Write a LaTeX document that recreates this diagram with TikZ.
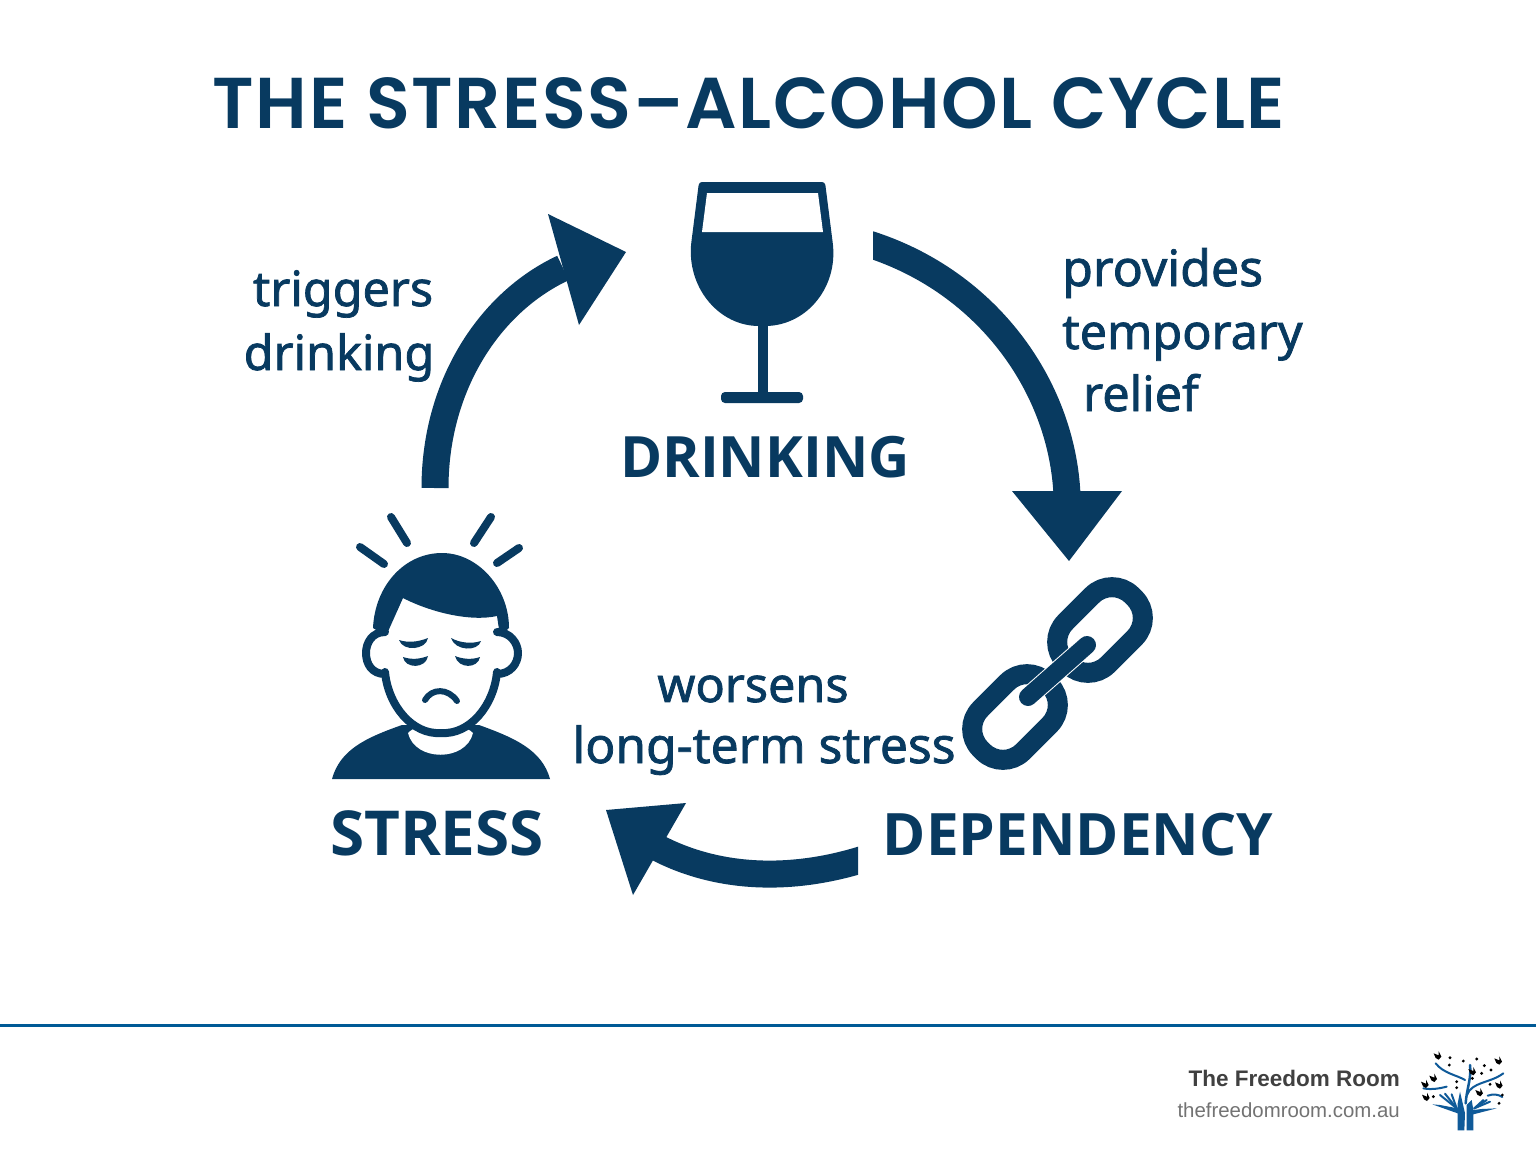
\documentclass[tikz,border=0pt]{standalone}
\usepackage{fontspec}
\setmainfont{Open Sans}
\newfontfamily\titlefont[LetterSpace=2.2]{Poppins SemiBold}
\newfontfamily\labelfont[FakeBold=1.5]{Noto Sans}
\newfontfamily\footfont{Liberation Sans}
\usetikzlibrary{positioning}
\definecolor{navy}{HTML}{083A60}
\definecolor{rulecol}{HTML}{005A96}
\definecolor{logoblue}{HTML}{0F5A99}
\tikzset{
  caption/.style={font=\fontsize{57}{57}\selectfont\bfseries, text=navy, inner sep=0pt},
  edgelabel/.style={font=\fontsize{48.5}{48}\labelfont, text=navy, inner sep=0pt},
  shaft/.style={draw=navy, line width=27pt},
  arrowhead/.style={fill=navy},
  icon/.style={draw=navy, line width=8pt, line cap=round, line join=round},
  chainlink/.style={draw=navy, line width=20pt, rounded corners=28pt},
}
\begin{document}
\begin{tikzpicture}[x=1pt, y=-1pt]
  \useasboundingbox[fill=white] (0,0) rectangle (1536,1154);

  % Title
  \node[anchor=base, inner sep=0pt, text=navy, font=\fontsize{72}{72}\titlefont] (title) at (749,128) {THE STRESS–ALCOHOL CYCLE};

  % Captions
  \node[caption, anchor=base] (drinking) at (765,477) {DRINKING};
  \node[caption, anchor=base, font=\fontsize{62}{62}\selectfont\bfseries] (stress) at (437,855) {STRESS};
  \node[caption, anchor=base, font=\fontsize{58.5}{58}\selectfont\bfseries] (dependency) at (1078,855) {DEPENDENCY};

  % Arrow labels
  \node[edgelabel, anchor=base] (trig) at (343,306) {triggers};
  \node[edgelabel, anchor=base] (drink) at (339,370) {drinking};
  \node[edgelabel, anchor=base west, font=\fontsize{50}{48}\labelfont] (prov) at (1062,286) {provides};
  \node[edgelabel, anchor=base west] (temp) at (1062,349) {temporary};
  \node[edgelabel, anchor=base west] (relief) at (1083,411) {relief};
  \node[edgelabel, anchor=base] (wors) at (753,702) {worsens};
  \node[edgelabel, anchor=base, font=\fontsize{49.7}{48}\labelfont] (long) at (764,763) {long-term stress};

  % Arrow ends
  \coordinate (s1) at (435,488);
  \coordinate (e1) at (563,268);
  \coordinate (s2) at (862,242);
  \coordinate (e2) at (1067,495);
  \coordinate (s3) at (870,857);
  \coordinate (e3) at (658,848);

  % Arrows of the cycle
  \draw[shaft] (s1) .. controls (435,385) and (490,302) .. (e1);
  \fill[arrowhead] (626,252) -- (548,214) -- (579,325) -- cycle;
  \begin{scope}
    \clip (873,200) rectangle (1200,600);
    \draw[shaft] (s2) .. controls (985,278) and (1062,385) .. (e2);
  \end{scope}
  \fill[arrowhead] (1012,491) -- (1122,491) -- (1069,561) -- cycle;
  \begin{scope}
    \clip (600,800) rectangle (858,920);
    \draw[shaft] (s3) .. controls (795,882) and (720,880) .. (e3);
  \end{scope}
  \fill[arrowhead] (606,810) -- (686,803) -- (633,895) -- cycle;

  % Wine glass
  \fill[navy, rounded corners=3pt] (699,182) -- (825,182) -- (833,245)
    .. controls (836,290) and (805,326) .. (762,326)
    .. controls (720,326) and (689,290) .. (691,245) -- cycle;
  \fill[white] (707,193) -- (818,193) -- (823,232) -- (702,232) -- cycle;
  \fill[navy] (758,320) rectangle (768,396);
  \fill[navy, rounded corners=4pt] (721,392) rectangle (803,403);

  % Stressed person
  \draw[icon] (391,517) -- (407,543);
  \draw[icon] (360,547) -- (384,564);
  \draw[icon] (491,517) -- (474,543);
  \draw[icon] (519,548) -- (497,563);
  \fill[navy] (332,779) .. controls (340,750) and (365,738) .. (402,725)
    -- (479,725) .. controls (515,738) and (542,750) .. (550,779) -- cycle;
  \fill[white] (408,733) .. controls (415,762) and (466,762) .. (473,733)
    .. controls (460,720) and (420,720) .. (408,733) -- cycle;
  \fill[white] (385,625) -- (385,672)
    .. controls (388,705) and (412,735) .. (441,733)
    .. controls (470,735) and (494,705) .. (497,672) -- (497,625) -- cycle;
  \draw[icon] (385,672)
    .. controls (388,705) and (412,735) .. (441,733)
    .. controls (470,735) and (494,705) .. (497,672);
  \draw[icon] (385,632) .. controls (372,632) and (366,643) .. (366,653)
    .. controls (366,664) and (372,674) .. (385,674);
  \draw[icon] (497,632) .. controls (510,632) and (518,643) .. (518,653)
    .. controls (518,664) and (510,674) .. (497,674);
  \fill[navy] (386,636) -- (403,598) .. controls (430,612) and (470,622) .. (497,616)
    -- (500,636) -- (509,628) .. controls (509,588) and (478,553) .. (442,553)
    .. controls (405,553) and (375,585) .. (373,628) -- cycle;
  % Brows, eyes and mouth
  \fill[navy] (399,640) .. controls (408,643) and (418,642) .. (428,638)
    .. controls (426,650) and (403,652) .. (399,640) -- cycle;
  \fill[navy] (451,638) .. controls (460,643) and (472,644) .. (481,641)
    .. controls (478,652) and (455,651) .. (451,638) -- cycle;
  \fill[navy] (403,657) .. controls (412,660) and (420,659) .. (428,656)
    .. controls (426,669) and (405,669) .. (403,657) -- cycle;
  \fill[navy] (455,656) .. controls (462,659) and (472,660) .. (480,657)
    .. controls (478,669) and (458,669) .. (455,656) -- cycle;
  \draw[navy, line width=6pt, line cap=round] (425,700) .. controls (432,688) and (448,688) .. (457,701);

  % Chain
  \begin{scope}[shift={(1100,630)}, rotate=45]
    \draw[chainlink] (-47,-30) rectangle (47,30);
  \end{scope}
  \begin{scope}[shift={(1015,717)}, rotate=45]
    \draw[chainlink] (-47,-30) rectangle (47,30);
  \end{scope}
  \draw[white, line width=20pt, line cap=round] (1028,697) -- (1087,645);
  \draw[navy, line width=18pt, line cap=round] (1028,697) -- (1087,645);

  % Footer
  \draw[rulecol, line width=3pt] (0,1025) -- (1536,1025);
  \node[anchor=base east, inner sep=0pt, text=black!75, font=\fontsize{22.5}{24}\footfont\bfseries] (brand) at (1400,1086) {The Freedom Room};
  \node[anchor=base east, inner sep=0pt, text=black!55, font=\fontsize{20.4}{21}\footfont] (site) at (1400,1117) {thefreedomroom.com.au};

  % Logo
  \begin{scope}[shift={(1415,1045)}, x=0.3333pt, y=-0.3333pt]
    \begin{scope}[logoblue, line cap=round]
      \fill (128,256) -- (148,256) -- (150,205) -- (142,170) -- (135,140) -- (128,175) -- (128,205) -- (80,188) -- (52,178) -- (75,180) -- (128,190) -- cycle;
      \fill (155,256) -- (175,256) -- (175,208) -- (245,190) -- (200,192) -- (175,195) -- (170,165) -- (155,180) -- cycle;
      \foreach \ex/\ey in {75/150, 90/146, 110/148}
        \draw[line width=2pt] (125,190) -- (\ex,\ey);
      \foreach \ex/\ey in {225/170, 215/165, 205/165}
        \draw[line width=2pt] (178,190) -- (\ex,\ey);
      \draw[line width=2.5pt] (152,175) .. controls (155,130) and (170,100) .. (165,60);
      \draw[line width=2pt] (150,105) .. controls (125,90) and (85,85) .. (62,55);
      \draw[line width=2pt] (156,150) .. controls (170,110) and (225,115) .. (265,85);
      \draw[line width=2pt] (25,130) .. controls (50,135) and (75,130) .. (95,125);
      \draw[line width=2pt] (218,152) .. controls (235,146) and (250,148) .. (262,156);
    \end{scope}
    \foreach \bx/\by in {68/33, 172/80, 250/48, 55/100, 30/118, 193/143, 252/120, 33/157}
      \fill[black] (\bx-12,\by-8) -- (\bx+3,\by-2) -- (\bx+3,\by-14) -- (\bx+11,\by+2) -- (\bx+3,\by+11) -- (\bx-6,\by+6) -- cycle;
    \foreach \bx/\by in {105/38, 103/60, 145/48, 185/42, 208/62, 228/75, 200/85, 172/100, 125/110, 125/128, 225/118, 55/155, 252/175, 262/150}
      \fill[black] (\bx,\by) circle (1.6pt);
  \end{scope}
\end{tikzpicture}
\end{document}
